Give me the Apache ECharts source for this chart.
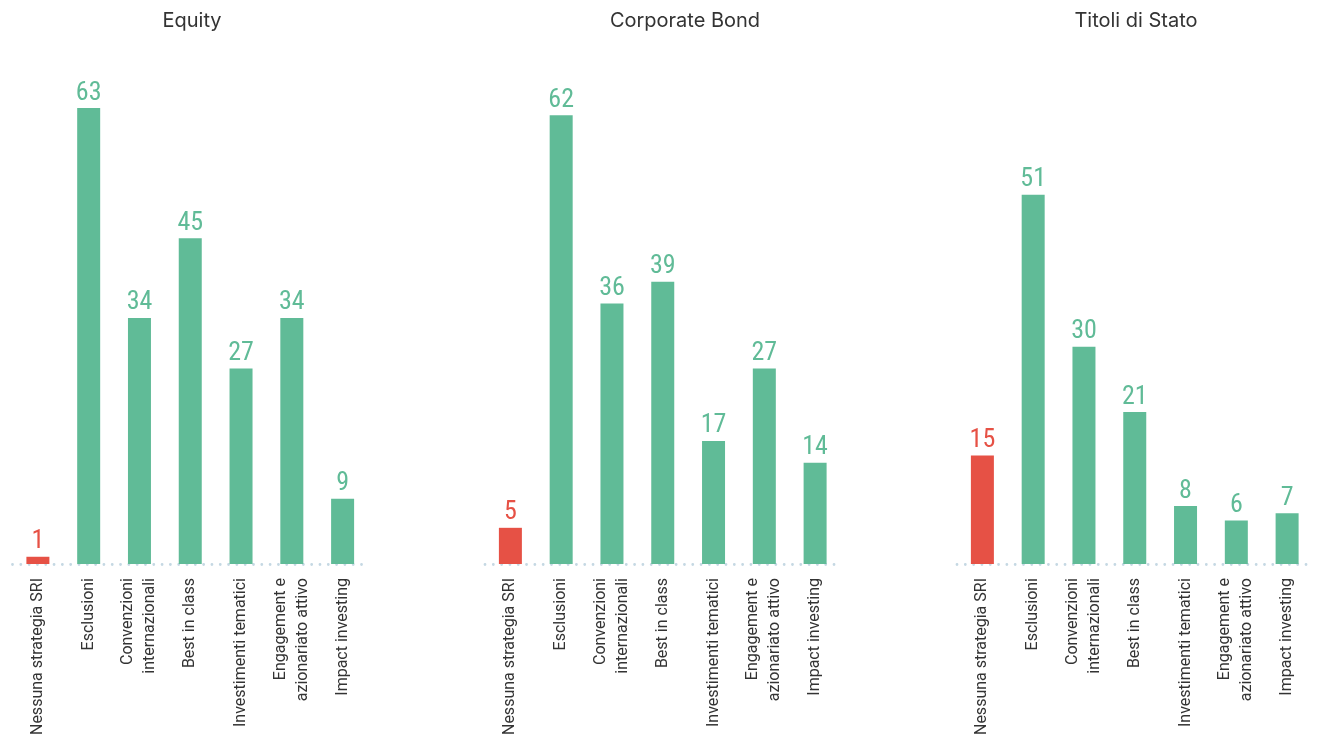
<!DOCTYPE html>
<html><head><meta charset="utf-8">
<script src="https://cdn.jsdelivr.net/npm/echarts@6/dist/echarts.min.js"></script>
<style>html,body{margin:0;padding:0;background:#fff}#c{width:1325px;height:740px}</style>
</head><body><div id="c"></div>
<script>
const categories = ["Nessuna strategia SRI","Esclusioni","Convenzioni\ninternazionali","Best in class","Investimenti tematici","Engagement e\nazionariato attivo","Impact investing"];
const titles = ["Equity","Corporate Bond","Titoli di Stato"];
const equity = [1,63,34,45,27,34,9];
const corporateBond = [5,62,36,39,17,27,14];
const titoliDiStato = [15,51,30,21,8,6,7];
const seriesData = [equity, corporateBond, titoliDiStato];

const GREEN = '#60bb97', RED = '#e65145';
const lefts = [12.5, 485, 957];
const titleX = [192, 685, 1136];
const gw = 355.5;
const chart = echarts.init(document.getElementById('c'), null, {renderer:'canvas'});
const numFont = '"Roboto Condensed","Liberation Sans Narrow","DejaVu Sans Condensed",Roboto,sans-serif';
const opt = {
  animation:false,
  graphic: titles.map((t,i)=>({type:'text', x: titleX[i], y: 21,
    style:{text:t, textAlign:'center', textVerticalAlign:'middle',
      font:'normal 20px Inter, Roboto, sans-serif', fill:'#333'}})),
  grid: lefts.map(l=>({left:l, width:gw, top:108, bottom:176, containLabel:false})),
  xAxis: lefts.map((l,i)=>({type:'category', gridIndex:i, data:categories,
    axisLine:{show:true, lineStyle:{color:'#c5d8e3', width:2.8, type:[0.01,8.3], cap:'round'}},
    axisTick:{show:false},
    axisLabel:{interval:0, rotate:90, margin:14, fontSize:16, color:'#333', lineHeight:22,
      fontFamily:'Roboto,sans-serif'}})),
  yAxis: lefts.map((l,i)=>({type:'value', gridIndex:i, min:0, max:63, show:false, splitLine:{show:false}})),
  series: seriesData.map((d,i)=>({type:'bar', xAxisIndex:i, yAxisIndex:i, barWidth:23,
    data: d.map((v,j)=>({value:v, itemStyle:{color: j===0?RED:GREEN},
      label:{color: j===0?RED:GREEN}})),
    label:{show:true, position:'top', distance:2, fontSize:26, fontFamily:numFont}}))
};
chart.setOption(opt);
</script></body></html>
